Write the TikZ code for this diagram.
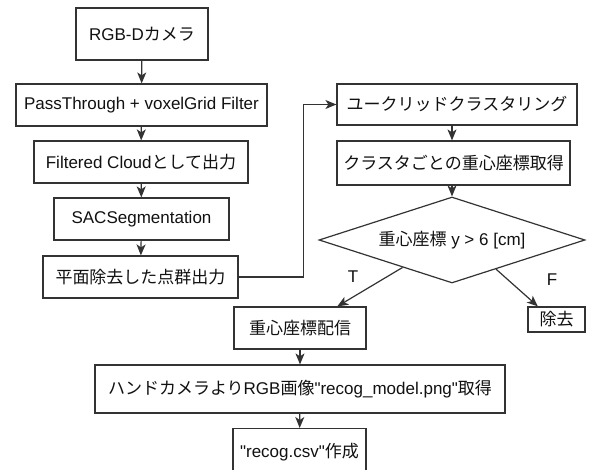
\documentclass[tikz,border=0pt]{standalone}
\usepackage{fontspec}
\setmainfont{Liberation Sans}[Ligatures=TeXOff]
\newfontfamily\jp{Noto Sans CJK JP}
\usetikzlibrary{shapes.geometric,arrows.meta,calc}
\definecolor{ln}{HTML}{333333}
\definecolor{tx}{HTML}{111111}
\tikzset{
  box/.style={draw=ln,line width=1.2pt,fill=white,text=tx,inner sep=0pt,
    font=\fontsize{17}{19}\selectfont,minimum width=#1},
  arr/.style={draw=ln,line width=1.2pt,-{Stealth[length=11pt,width=9pt,inset=3pt]}},
  lbl/.style={text=tx,font=\fontsize{17}{19}\selectfont,inner sep=0pt}
}
\begin{document}
\begin{tikzpicture}[x=1pt,y=-1pt]
\useasboundingbox (0,0) rectangle (595,470);
\clip (0,0) rectangle (595,470);
\fill[white] (0,0) rectangle (595,470);
\node[box=132pt,minimum height=52pt] (b1) at (142,34) {RGB-D{\jp カメラ}};
\node[box=251pt,minimum height=42pt] (b2) at (141.5,105) {PassThrough + voxelGrid Filter};
\node[box=214pt,minimum height=42pt] (b3) at (141,162) {Filtered Cloud{\jp として出力}};
\node[box=175pt,minimum height=42pt] (b4) at (141.5,219) {SACSegmentation};
\node[box=195pt,minimum height=42pt] (b5) at (140.5,277) {\jp 平面除去した点群出力};
\node[box=240pt,minimum height=41pt] (b6) at (457,104.5) {\jp ユークリッドクラスタリング};
\node[box=233pt,minimum height=44pt] (b7) at (453.5,163) {\jp クラスタごとの重心座標取得};
\node[draw=ln,line width=1.2pt,shape=diamond,aspect=3.093,minimum width=266pt,minimum height=86pt,inner sep=0pt,
  text=tx,font=\fontsize{17}{19}\selectfont] (dia) at (452,240) {{\jp 重心座標} y > 6 [cm]};
\node[box=132pt,minimum height=42pt] (b8) at (300,328) {\jp 重心座標配信};
\node[box=57pt,minimum height=25pt] (b9) at (556.5,319.5) {\jp 除去};
\node[box=410pt,minimum height=48pt] (b10) at (300,389) {{\jp ハンドカメラより}RGB{\jp 画像}"recog\_model.png"{\jp 取得}};
\node[box=133pt,minimum height=48pt,anchor=north] (b11) at (299.5,428) {};
\node[lbl] (t11) at (299.5,452) {"recog.csv"{\jp 作成}};
\node[lbl] (lt) at (353,277) {T};
\node[lbl] (lf) at (552,280) {F};
\draw[arr] (b1) -- (b2);
\draw[arr] (b2) -- (b3);
\draw[arr] (b3) -- (b4);
\draw[arr] (b4) -- (b5);
\draw[arr] (b5.east) -- ++(65,0) |- (b6.west);
\draw[arr] (b6.south -| dia.north) -- (b7.north -| dia.north);
\draw[arr] (b7.south -| dia.north) -- (dia.north);
\coordinate (tS) at ($(dia.west)!0.63!(dia.south)$);
\coordinate (fS) at ($(dia.east)!0.67!(dia.south)$);
\coordinate (tE) at ($(b8.north west)!0.78!(b8.north east)$);
\coordinate (fE) at ($(b9.north west)!0.18!(b9.north east)$);
\draw[arr] (tS) -- (tE);
\draw[arr] (fS) -- (fE);
\draw[arr] (b8) -- (b10);
\draw[arr] (b10) -- (b11);
\end{tikzpicture}
\end{document}
